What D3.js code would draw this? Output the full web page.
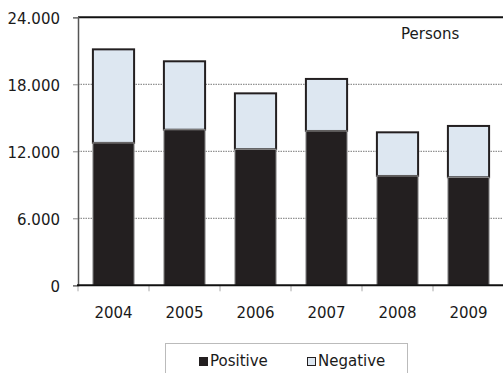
<!DOCTYPE html>
<html><head><meta charset="utf-8">
<script src="https://cdnjs.cloudflare.com/ajax/libs/d3/7.8.5/d3.min.js"></script>
<style>
html,body{margin:0;padding:0;background:#fff;}
svg{display:block;}
text{font-family:"DejaVu Sans",sans-serif;fill:#1a1a1a;}
</style></head>
<body>
<svg id="chart" width="503" height="373"></svg>
<script>
const years = ["2004","2005","2006","2007","2008","2009"];
const positive = [12750, 13930, 12180, 13820, 9790, 9670];
const negative = [8380, 6130, 5010, 4660, 3910, 4600];
const yTicks = [0, 6000, 12000, 18000, 24000];
const yTickLabels = ["0", "6.000", "12.000", "18.000", "24.000"];
const seriesNames = ["Positive", "Negative"];
const unitLabel = "Persons";

(function(){
const svg = d3.select("#chart");
const pLeft = 78, pRight = 504, pTop = 17.3, pBottom = 285.3;
const x = d3.scaleBand().domain(years).range([pLeft, pRight]).paddingInner(0.42).paddingOuter(0.21);
const y = d3.scaleLinear().domain([0, 24000]).range([pBottom, pTop]);

// gridlines
svg.append("g").selectAll("line").data(yTicks.filter(t => t > 0 && t < 24000)).join("line")
  .attr("x1", pLeft).attr("x2", 503).attr("y1", d => y(d)).attr("y2", d => y(d))
  .attr("stroke", "#777").attr("stroke-width", 1).attr("stroke-dasharray", "1.5,1");

// top line
svg.append("line").attr("x1", pLeft).attr("x2", 503).attr("y1", y(24000)).attr("y2", y(24000))
  .attr("stroke", "#111").attr("stroke-width", 2);

// y axis
const yAxis = d3.axisLeft(y).tickValues(yTicks).tickFormat((d, i) => yTickLabels[i]).tickSize(5).tickPadding(13);
const gy = svg.append("g").attr("transform", `translate(${pLeft},0)`).call(yAxis);
gy.select(".domain").attr("stroke", "#555").attr("stroke-width", 1.5);
gy.selectAll(".tick line").attr("stroke", "#888");
gy.selectAll(".tick text").attr("font-size", "15px").attr("font-family", "DejaVu Sans").attr("fill", "#1a1a1a").attr("dy", "0.4em");

// bars
const gb = svg.append("g");
years.forEach((yr, i) => {
  const total = positive[i] + negative[i];
  gb.append("rect").attr("x", x(yr)).attr("width", x.bandwidth())
    .attr("y", y(total)).attr("height", y(positive[i]) - y(total))
    .attr("fill", "#dde7f1").attr("stroke", "#231f20").attr("stroke-width", 2);
  gb.append("rect").attr("x", x(yr)).attr("width", x.bandwidth())
    .attr("y", y(positive[i])).attr("height", y(0) - y(positive[i]))
    .attr("fill", "#231f20").attr("stroke", "#999").attr("stroke-width", 1);
});

// x axis
const xAxis = d3.axisBottom(x).tickSize(0).tickPadding(22);
const gx = svg.append("g").attr("transform", `translate(0,${pBottom})`).call(xAxis);
gx.select(".domain").remove();
gx.selectAll(".tick text").attr("font-size", "15px").attr("font-family", "DejaVu Sans").attr("fill", "#1a1a1a");
svg.append("g").selectAll("line").data(d3.range(years.length)).join("line")
  .attr("x1", i => pLeft + i * x.step()).attr("x2", i => pLeft + i * x.step())
  .attr("y1", pBottom).attr("y2", pBottom + 6).attr("stroke", "#aaa").attr("stroke-width", 1);
svg.append("line").attr("x1", pLeft - 1).attr("x2", 503).attr("y1", pBottom).attr("y2", pBottom)
  .attr("stroke", "#111").attr("stroke-width", 2);

// unit label
svg.append("text").attr("x", 401).attr("y", 39).attr("font-size", "15px").text(unitLabel);

// legend
const lg = svg.append("g");
lg.append("rect").attr("x", 165.5).attr("y", 343.5).attr("width", 242).attr("height", 40)
  .attr("fill", "#fff").attr("stroke", "#bbb").attr("stroke-width", 1);
const legX = [199, 307];
seriesNames.forEach((n, i) => {
  lg.append("rect").attr("x", legX[i] + 0.5).attr("y", 357.5).attr("width", 8).attr("height", 8)
    .attr("fill", i === 0 ? "#231f20" : "#dde7f1").attr("stroke", "#231f20").attr("stroke-width", 1);
  lg.append("text").attr("x", legX[i] + 11).attr("y", 366).attr("font-size", "15px").text(n);
});
})();
</script>
</body></html>
